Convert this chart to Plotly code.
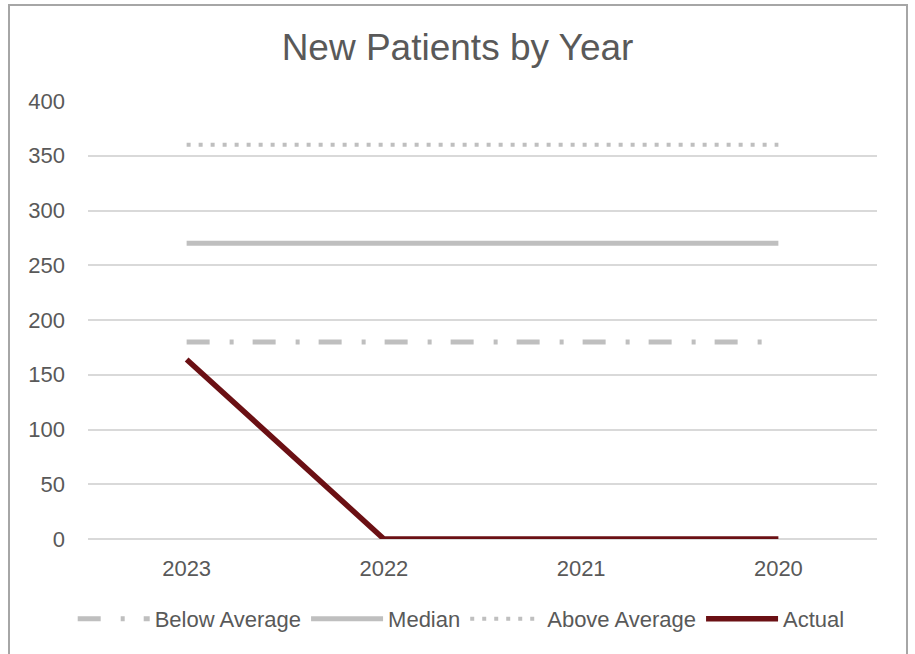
import plotly.graph_objects as go

# Chart data
years = ["2023", "2022", "2021", "2020"]
below_average = [180, 180, 180, 180]
median = [270, 270, 270, 270]
above_average = [360, 360, 360, 360]
actual = [164, 0, 0, 0]
y_ticks = [0, 50, 100, 150, 200, 250, 300, 350, 400]

FONT = "Liberation Sans, Arial, sans-serif"
TEXT = "#595959"
GRID = "#D9D9D9"
LIGHT = "#BFBFBF"
MAROON = "#6B1014"

fig = go.Figure()
fig.add_trace(go.Scatter(
    x=years, y=below_average, name="Below Average", mode="lines",
    line=dict(color=LIGHT, width=5, dash="23px,20px,4px,19px"),
))
fig.add_trace(go.Scatter(
    x=years, y=median, name="Median", mode="lines",
    line=dict(color=LIGHT, width=5),
))
fig.add_trace(go.Scatter(
    x=years, y=above_average, name="Above Average", mode="lines",
    line=dict(color=LIGHT, width=4, dash="4px,8px"),
))
fig.add_trace(go.Scatter(
    x=years, y=actual, name="Actual", mode="lines",
    line=dict(color=MAROON, width=5.5),
))

# Outer chart frame, positioned in pixels relative to the plot area
fig.add_shape(
    type="rect", xref="paper", yref="paper",
    xsizemode="pixel", ysizemode="pixel", xanchor=0, yanchor=0,
    x0=-79, x1=819, y0=-130, y1=534,
    line=dict(color="#A6A6A6", width=2), fillcolor="rgba(0,0,0,0)",
    layer="below",
)

fig.update_layout(
    width=915, height=654,
    margin=dict(l=88, r=38, t=101, b=115),
    paper_bgcolor="white", plot_bgcolor="white",
    font=dict(family=FONT, size=22, color=TEXT),
    title=dict(
        text="New Patients by Year", x=0.5, xanchor="center",
        y=1 - 47 / 654, yanchor="middle",
        font=dict(family=FONT, size=37, color=TEXT),
    ),
    showlegend=True,
    legend=dict(
        orientation="h", x=0.473, xanchor="center",
        y=-0.1826, yanchor="middle",
        font=dict(family=FONT, size=22, color=TEXT),
        itemwidth=72, bgcolor="rgba(0,0,0,0)",
    ),
    xaxis=dict(
        type="category", range=[-0.5, 3.5],
        showgrid=False, showline=False, zeroline=False,
        ticks="", ticklabelstandoff=14,
        tickfont=dict(family=FONT, size=22, color=TEXT),
    ),
    yaxis=dict(
        range=[0, 400], tickvals=y_ticks,
        showgrid=True, gridcolor=GRID, gridwidth=2,
        zeroline=True, zerolinecolor=GRID, zerolinewidth=2,
        showline=False, ticks="", ticklabelstandoff=22,
        tickfont=dict(family=FONT, size=22, color=TEXT),
    ),
)

fig.write_html("out.html")
